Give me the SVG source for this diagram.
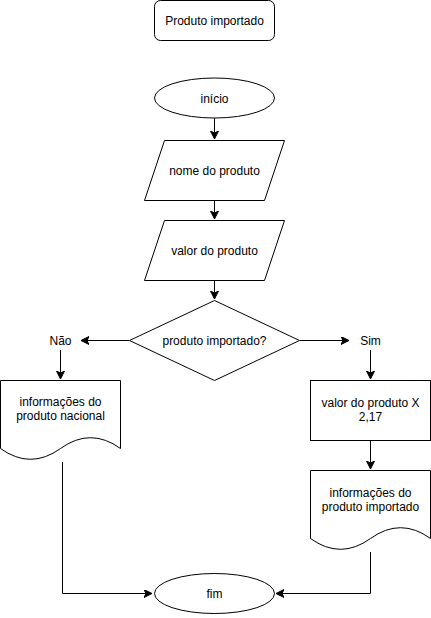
<svg xmlns="http://www.w3.org/2000/svg" width="431" height="618" viewBox="0 0 431 618">
<style>
.s{fill:#fff;stroke:#000;stroke-width:1}
.t{font-family:"Liberation Sans",Arial,sans-serif;font-size:12px;fill:#000;text-anchor:middle}
.c{fill:none;stroke:#000;stroke-width:1}
</style>
<defs>
<marker id="a" markerWidth="10" markerHeight="10" refX="7" refY="4" orient="auto" markerUnits="userSpaceOnUse">
<path d="M0,0 L8,4 L0,8 L2,4 Z" fill="#000" stroke="#000" stroke-width="1"/>
</marker>
</defs>
<rect width="431" height="618" fill="#fff"/>
<g id="connectors">
<path class="c" d="M214.5,118 V138" marker-end="url(#a)"/>
<path class="c" d="M214.5,200 V218" marker-end="url(#a)"/>
<path class="c" d="M214.5,280 V298" marker-end="url(#a)"/>
<path class="c" d="M129,340.5 H82" marker-end="url(#a)"/>
<path class="c" d="M300,340.5 H348" marker-end="url(#a)"/>
<path class="c" d="M60.5,350 V378" marker-end="url(#a)"/>
<path class="c" d="M370.5,350 V378" marker-end="url(#a)"/>
<path class="c" d="M370.5,440 V468" marker-end="url(#a)"/>
<path class="c" d="M62.5,462 V593.5 H151" marker-end="url(#a)"/>
<path class="c" d="M370.5,552 V593.5 H277" marker-end="url(#a)"/>
</g>
<g id="title">
<rect class="s" x="154.5" y="0.5" width="120" height="40" rx="6"/>
<text class="t" x="214.5" y="24.5">Produto importado</text>
</g>
<g id="inicio">
<ellipse class="s" cx="214.5" cy="98" rx="60" ry="20"/>
<text class="t" x="214.5" y="102.5">início</text>
</g>
<g id="nome">
<polygon class="s" points="164.5,140.5 284.5,140.5 264.5,200.5 144.5,200.5"/>
<text class="t" x="214.5" y="174.5">nome do produto</text>
</g>
<g id="valor">
<polygon class="s" points="164.5,220.5 284.5,220.5 264.5,280.5 144.5,280.5"/>
<text class="t" x="214.5" y="254.5">valor do produto</text>
</g>
<g id="decisao">
<polygon class="s" points="214.5,300.5 299.5,340.5 214.5,380.5 129.5,340.5"/>
<text class="t" x="214.5" y="344.5">produto importado?</text>
</g>
<g id="nao">
<text class="t" x="60.5" y="344.5">Não</text>
</g>
<g id="sim">
<text class="t" x="370.5" y="344.5">Sim</text>
</g>
<g id="nacional">
<path class="s" d="M0.5,380.5 H120.5 V448.5 Q90.5,426.9 60.5,448.5 Q30.5,470.1 0.5,448.5 Z"/>
<text class="t" x="60.5" y="406"><tspan x="60.5">informações do</tspan><tspan x="60.5" dy="14">produto nacional</tspan></text>
</g>
<g id="calc">
<rect class="s" x="310.5" y="380.5" width="120" height="60"/>
<text class="t" x="370.5" y="407"><tspan x="370.5">valor do produto X</tspan><tspan x="370.5" dy="14">2,17</tspan></text>
</g>
<g id="importado">
<path class="s" d="M310.5,470.5 H430.5 V538.5 Q400.5,516.9 370.5,538.5 Q340.5,560.1 310.5,538.5 Z"/>
<text class="t" x="370.5" y="497"><tspan x="370.5">informações do</tspan><tspan x="370.5" dy="14">produto importado</tspan></text>
</g>
<g id="fim">
<ellipse class="s" cx="214.5" cy="593.5" rx="60" ry="20"/>
<text class="t" x="214.5" y="597.5">fim</text>
</g>
</svg>
